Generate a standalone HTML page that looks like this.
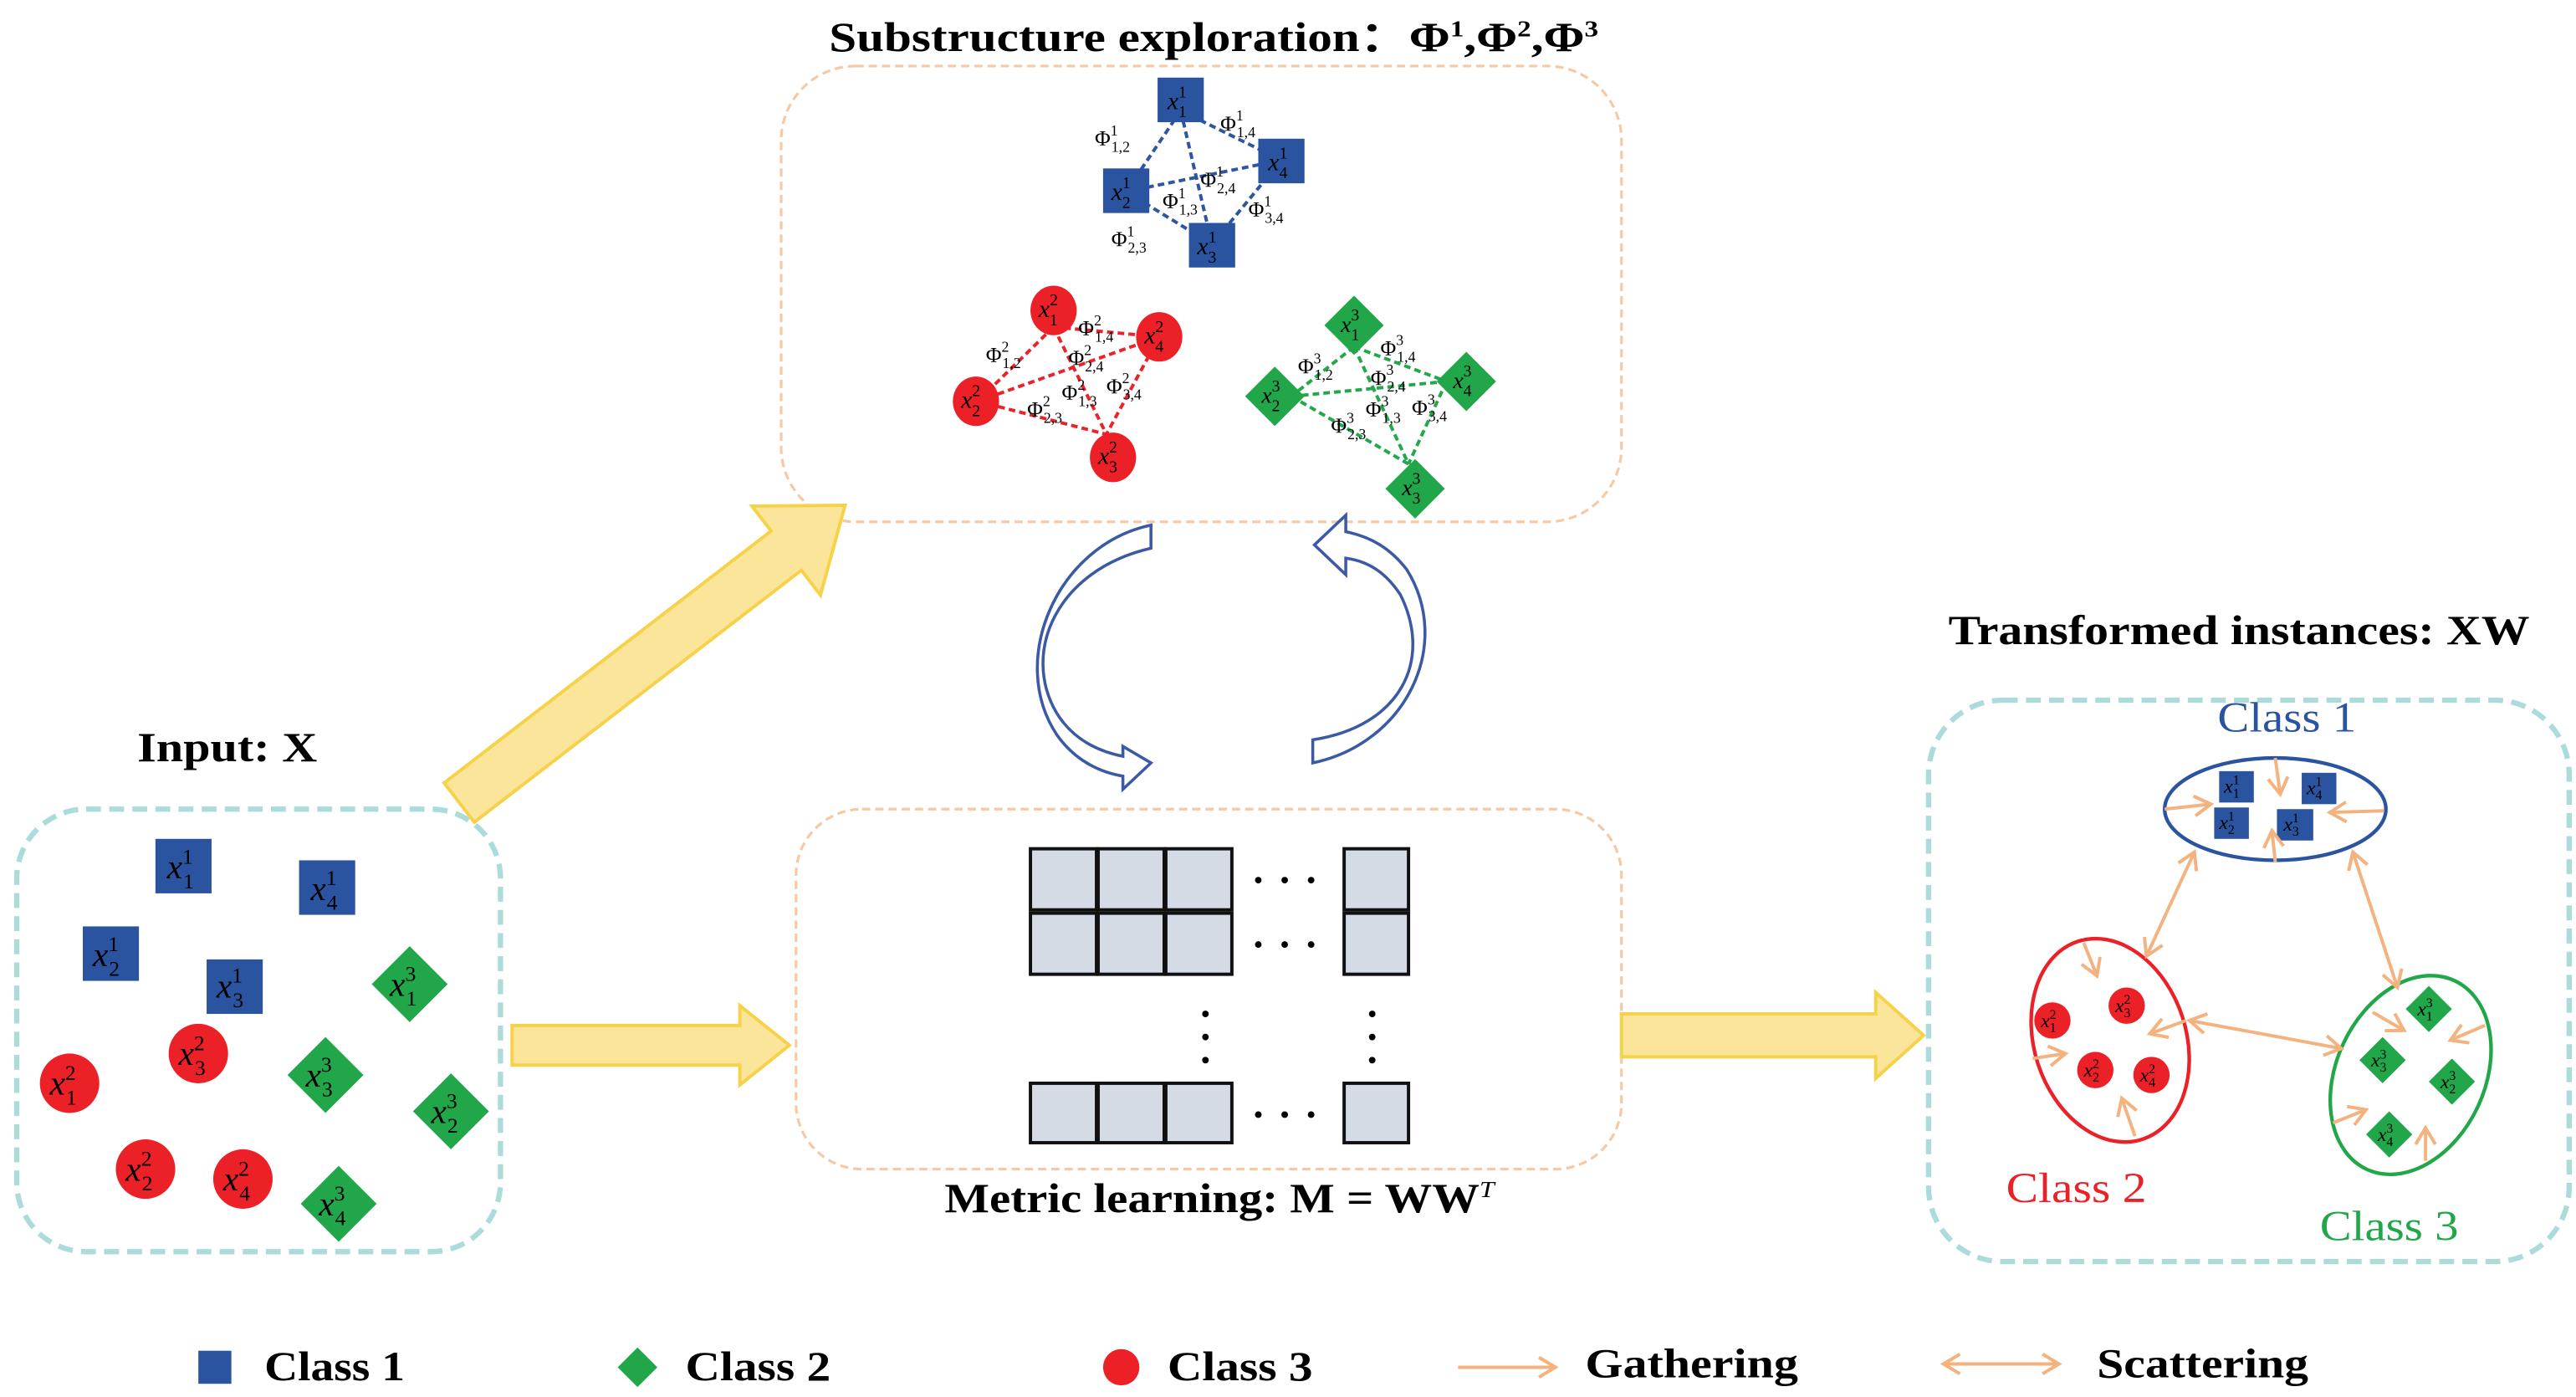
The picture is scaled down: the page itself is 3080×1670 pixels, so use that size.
<!DOCTYPE html>
<html><head><meta charset="utf-8"><style>
html,body{margin:0;padding:0;background:#fff}
svg{display:block}
text{font-family:"Liberation Serif",serif}
.m{font-style:italic;fill:#000}
.n{font-style:normal}
.b{font-weight:bold}
</style></head><body>
<svg width="3080" height="1670" viewBox="0 0 1560 846" xmlns="http://www.w3.org/2000/svg">
<defs>
<marker id="oa" viewBox="-12 -7 14 14" refX="0" refY="0" markerWidth="14" markerHeight="14" orient="auto-start-reverse" markerUnits="userSpaceOnUse">
<path d="M-10,-6 L0,0 L-10,6" fill="none" stroke="#f4b27f" stroke-width="2"/>
</marker>
</defs>

<!-- Titles -->
<text x="502" y="31" font-size="25" class="b" textLength="466" lengthAdjust="spacingAndGlyphs">Substructure exploration：Φ<tspan font-size="14" dy="-9">1</tspan><tspan dy="9">,Φ</tspan><tspan font-size="14" dy="-9">2</tspan><tspan dy="9">,Φ</tspan><tspan font-size="14" dy="-9">3</tspan></text>
<text x="83" y="461" font-size="25" class="b" textLength="109" lengthAdjust="spacingAndGlyphs">Input: X</text>
<text x="1180" y="390" font-size="25" class="b" textLength="352" lengthAdjust="spacingAndGlyphs">Transformed instances:  XW</text>
<text x="572" y="734" font-size="25" class="b" textLength="333" lengthAdjust="spacingAndGlyphs">Metric learning:  M = WW<tspan font-size="14" dy="-9" font-style="italic" font-weight="normal">T</tspan></text>

<!-- Boxes -->
<rect x="473" y="40" width="509" height="276" rx="45" fill="none" stroke="#f6c9a2" stroke-width="1.6" stroke-dasharray="5,3"/>
<rect x="482" y="490" width="500" height="218" rx="40" fill="none" stroke="#f6c9a2" stroke-width="1.6" stroke-dasharray="5,3"/>
<rect x="10" y="490" width="293" height="268" rx="42" fill="none" stroke="#abdcda" stroke-width="3.2" stroke-dasharray="9,5"/>
<rect x="1168" y="424" width="388" height="340" rx="45" fill="none" stroke="#abdcda" stroke-width="3.2" stroke-dasharray="9,5"/>

<!-- Yellow arrows -->
<g fill="#fbe59a" stroke="#f6d24a" stroke-width="2">
<polygon transform="translate(278,486) rotate(-37.6)" points="0,-15 250,-15 250,-34 295,0 250,34 250,15 0,15"/>
<polygon points="310,621 448,621 448,609 478,633 448,657 448,645 310,645"/>
<polygon points="982,614 1136,614 1136,601 1165,627 1136,653 1136,640 982,640"/>
</g>

<!-- Cycle arrows -->
<g fill="none" stroke="#3b5aa3" stroke-width="1.8">
<path d="M697,318 C640,330 610,400 640,445 C652,462 668,468 680,470 L680,478 L697,462 L680,452 L680,458 C665,455 650,448 640,432 C618,395 640,345 697,332 Z" fill="#fff"/>
<path d="M795,462 C852,450 880,390 852,345 C842,332 830,325 815,322 L815,312 L796,330 L815,348 L815,338 C830,340 840,348 848,360 C868,400 848,440 795,448 Z" fill="#fff"/>
</g>

<!-- Top: blue group -->
<g stroke="#2d55a0" stroke-width="2" stroke-dasharray="4,2.5">
<line x1="715" y1="67" x2="682" y2="116"/><line x1="715" y1="67" x2="776" y2="97"/><line x1="715" y1="67" x2="734" y2="148"/>
<line x1="682" y1="116" x2="776" y2="97"/><line x1="682" y1="116" x2="734" y2="148"/><line x1="776" y1="97" x2="734" y2="148"/>
</g>
<g fill="#2b54a0">
<rect x="701" y="47" width="28" height="27"/><rect x="762" y="84" width="28" height="27"/>
<rect x="668" y="102" width="28" height="27"/><rect x="720" y="135" width="28" height="27"/>
</g>
<g font-size="15">
<text x="707" y="66" class="m">x<tspan class="n" font-size="10" dy="-7">1</tspan><tspan class="n" font-size="10" dx="-5" dy="12">1</tspan></text>
<text x="768" y="103" class="m">x<tspan class="n" font-size="10" dy="-7">1</tspan><tspan class="n" font-size="10" dx="-5" dy="12">4</tspan></text>
<text x="673" y="121" class="m">x<tspan class="n" font-size="10" dy="-7">1</tspan><tspan class="n" font-size="10" dx="-5" dy="12">2</tspan></text>
<text x="725" y="154" class="m">x<tspan class="n" font-size="10" dy="-7">1</tspan><tspan class="n" font-size="10" dx="-5" dy="12">3</tspan></text>
</g>
<g font-size="13">
<text x="663" y="88">Φ<tspan font-size="9" dy="-6">1</tspan><tspan font-size="9" dx="-4" dy="10">1,2</tspan></text>
<text x="739" y="79">Φ<tspan font-size="9" dy="-6">1</tspan><tspan font-size="9" dx="-4" dy="10">1,4</tspan></text>
<text x="727" y="113">Φ<tspan font-size="9" dy="-6">1</tspan><tspan font-size="9" dx="-4" dy="10">2,4</tspan></text>
<text x="704" y="126">Φ<tspan font-size="9" dy="-6">1</tspan><tspan font-size="9" dx="-4" dy="10">1,3</tspan></text>
<text x="756" y="131">Φ<tspan font-size="9" dy="-6">1</tspan><tspan font-size="9" dx="-4" dy="10">3,4</tspan></text>
<text x="673" y="149">Φ<tspan font-size="9" dy="-6">1</tspan><tspan font-size="9" dx="-4" dy="10">2,3</tspan></text>
</g>

<!-- Top: red group -->
<g stroke="#e8232a" stroke-width="2" stroke-dasharray="4,2.5">
<line x1="638" y1="198" x2="592" y2="243"/><line x1="638" y1="198" x2="702" y2="204"/><line x1="638" y1="198" x2="670" y2="263"/>
<line x1="592" y1="243" x2="702" y2="204"/><line x1="592" y1="243" x2="670" y2="263"/><line x1="702" y1="204" x2="670" y2="263"/>
</g>
<g fill="#ec2027">
<ellipse cx="638" cy="188" rx="14" ry="15"/><ellipse cx="702" cy="204" rx="14" ry="15"/>
<ellipse cx="591" cy="243" rx="14" ry="15"/><ellipse cx="674" cy="277" rx="14" ry="15"/>
</g>
<g font-size="15">
<text x="629" y="192" class="m">x<tspan class="n" font-size="10" dy="-7">2</tspan><tspan class="n" font-size="10" dx="-5" dy="12">1</tspan></text>
<text x="693" y="208" class="m">x<tspan class="n" font-size="10" dy="-7">2</tspan><tspan class="n" font-size="10" dx="-5" dy="12">4</tspan></text>
<text x="582" y="247" class="m">x<tspan class="n" font-size="10" dy="-7">2</tspan><tspan class="n" font-size="10" dx="-5" dy="12">2</tspan></text>
<text x="665" y="281" class="m">x<tspan class="n" font-size="10" dy="-7">2</tspan><tspan class="n" font-size="10" dx="-5" dy="12">3</tspan></text>
</g>
<g font-size="13">
<text x="597" y="219">Φ<tspan font-size="9" dy="-6">2</tspan><tspan font-size="9" dx="-4" dy="10">1,2</tspan></text>
<text x="653" y="203">Φ<tspan font-size="9" dy="-6">2</tspan><tspan font-size="9" dx="-4" dy="10">1,4</tspan></text>
<text x="647" y="221">Φ<tspan font-size="9" dy="-6">2</tspan><tspan font-size="9" dx="-4" dy="10">2,4</tspan></text>
<text x="643" y="242">Φ<tspan font-size="9" dy="-6">2</tspan><tspan font-size="9" dx="-4" dy="10">1,3</tspan></text>
<text x="670" y="238">Φ<tspan font-size="9" dy="-6">2</tspan><tspan font-size="9" dx="-4" dy="10">3,4</tspan></text>
<text x="622" y="252">Φ<tspan font-size="9" dy="-6">2</tspan><tspan font-size="9" dx="-4" dy="10">2,3</tspan></text>
</g>

<!-- Top: green group -->
<g stroke="#22a84a" stroke-width="2" stroke-dasharray="4,2.5">
<line x1="820" y1="210" x2="782" y2="240"/><line x1="820" y1="210" x2="876" y2="231"/><line x1="820" y1="210" x2="853" y2="281"/>
<line x1="782" y1="240" x2="876" y2="231"/><line x1="782" y1="240" x2="853" y2="281"/><line x1="876" y1="231" x2="853" y2="281"/>
</g>
<g fill="#21a74a">
<polygon points="820,179 838,197 820,215 802,197"/><polygon points="888,213 906,231 888,249 870,231"/>
<polygon points="772,222 790,240 772,258 754,240"/><polygon points="857,278 875,296 857,314 839,296"/>
</g>
<g font-size="14">
<text x="812" y="201" class="m">x<tspan class="n" font-size="10" dy="-7">3</tspan><tspan class="n" font-size="10" dx="-5" dy="12">1</tspan></text>
<text x="880" y="235" class="m">x<tspan class="n" font-size="10" dy="-7">3</tspan><tspan class="n" font-size="10" dx="-5" dy="12">4</tspan></text>
<text x="764" y="244" class="m">x<tspan class="n" font-size="10" dy="-7">3</tspan><tspan class="n" font-size="10" dx="-5" dy="12">2</tspan></text>
<text x="849" y="300" class="m">x<tspan class="n" font-size="10" dy="-7">3</tspan><tspan class="n" font-size="10" dx="-5" dy="12">3</tspan></text>
</g>
<g font-size="13">
<text x="786" y="226">Φ<tspan font-size="9" dy="-6">3</tspan><tspan font-size="9" dx="-4" dy="10">1,2</tspan></text>
<text x="836" y="215">Φ<tspan font-size="9" dy="-6">3</tspan><tspan font-size="9" dx="-4" dy="10">1,4</tspan></text>
<text x="830" y="233">Φ<tspan font-size="9" dy="-6">3</tspan><tspan font-size="9" dx="-4" dy="10">2,4</tspan></text>
<text x="827" y="252">Φ<tspan font-size="9" dy="-6">3</tspan><tspan font-size="9" dx="-4" dy="10">1,3</tspan></text>
<text x="855" y="251">Φ<tspan font-size="9" dy="-6">3</tspan><tspan font-size="9" dx="-4" dy="10">3,4</tspan></text>
<text x="806" y="262">Φ<tspan font-size="9" dy="-6">3</tspan><tspan font-size="9" dx="-4" dy="10">2,3</tspan></text>
</g>

<!-- Input items -->
<g fill="#2b54a0">
<rect x="94" y="508" width="34" height="33"/><rect x="181" y="521" width="34" height="33"/>
<rect x="50" y="561" width="34" height="33"/><rect x="125" y="581" width="34" height="33"/>
</g>
<g fill="#ec2027">
<circle cx="120" cy="638" r="18"/><circle cx="42" cy="656" r="18"/>
<circle cx="88" cy="708" r="18"/><circle cx="147" cy="714" r="18"/>
</g>
<g fill="#21a74a">
<polygon points="248,573 271,596 248,619 225,596"/><polygon points="197,628 220,651 197,674 174,651"/>
<polygon points="273,650 296,673 273,696 250,673"/><polygon points="205,706 228,729 205,752 182,729"/>
</g>
<g font-size="21">
<text x="101" y="532" class="m">x<tspan class="n" font-size="13" dy="-9">1</tspan><tspan class="n" font-size="13" dx="-6" dy="15">1</tspan></text>
<text x="188" y="545" class="m">x<tspan class="n" font-size="13" dy="-9">1</tspan><tspan class="n" font-size="13" dx="-6" dy="15">4</tspan></text>
<text x="56" y="585" class="m">x<tspan class="n" font-size="13" dy="-9">1</tspan><tspan class="n" font-size="13" dx="-6" dy="15">2</tspan></text>
<text x="131" y="604" class="m">x<tspan class="n" font-size="13" dy="-9">1</tspan><tspan class="n" font-size="13" dx="-6" dy="15">3</tspan></text>
<text x="108" y="645" class="m">x<tspan class="n" font-size="13" dy="-9">2</tspan><tspan class="n" font-size="13" dx="-6" dy="15">3</tspan></text>
<text x="30" y="663" class="m">x<tspan class="n" font-size="13" dy="-9">2</tspan><tspan class="n" font-size="13" dx="-6" dy="15">1</tspan></text>
<text x="76" y="715" class="m">x<tspan class="n" font-size="13" dy="-9">2</tspan><tspan class="n" font-size="13" dx="-6" dy="15">2</tspan></text>
<text x="135" y="721" class="m">x<tspan class="n" font-size="13" dy="-9">2</tspan><tspan class="n" font-size="13" dx="-6" dy="15">4</tspan></text>
<text x="236" y="603" class="m">x<tspan class="n" font-size="13" dy="-9">3</tspan><tspan class="n" font-size="13" dx="-6" dy="15">1</tspan></text>
<text x="185" y="658" class="m">x<tspan class="n" font-size="13" dy="-9">3</tspan><tspan class="n" font-size="13" dx="-6" dy="15">3</tspan></text>
<text x="261" y="680" class="m">x<tspan class="n" font-size="13" dy="-9">3</tspan><tspan class="n" font-size="13" dx="-6" dy="15">2</tspan></text>
<text x="193" y="736" class="m">x<tspan class="n" font-size="13" dy="-9">3</tspan><tspan class="n" font-size="13" dx="-6" dy="15">4</tspan></text>
</g>

<!-- Matrix grid -->
<g fill="#d5dbe5" stroke="#111" stroke-width="2">
<rect x="624" y="514" width="40" height="37"/><rect x="665" y="514" width="40" height="37"/><rect x="706" y="514" width="40" height="37"/><rect x="814" y="514" width="39" height="37"/>
<rect x="624" y="553" width="40" height="37"/><rect x="665" y="553" width="40" height="37"/><rect x="706" y="553" width="40" height="37"/><rect x="814" y="553" width="39" height="37"/>
<rect x="624" y="656" width="40" height="36"/><rect x="665" y="656" width="40" height="36"/><rect x="706" y="656" width="40" height="36"/><rect x="814" y="656" width="39" height="36"/>
</g>
<g fill="#000">
<circle cx="762" cy="533" r="2"/><circle cx="778" cy="533" r="2"/><circle cx="794" cy="533" r="2"/>
<circle cx="762" cy="572" r="2"/><circle cx="778" cy="572" r="2"/><circle cx="794" cy="572" r="2"/>
<circle cx="762" cy="675" r="2"/><circle cx="778" cy="675" r="2"/><circle cx="794" cy="675" r="2"/>
<circle cx="730" cy="614" r="2"/><circle cx="730" cy="628" r="2"/><circle cx="730" cy="642" r="2"/>
<circle cx="831" cy="614" r="2"/><circle cx="831" cy="628" r="2"/><circle cx="831" cy="642" r="2"/>
</g>

<!-- Transformed instances -->
<text x="1343" y="443" font-size="26" fill="#2b54a0" textLength="84" lengthAdjust="spacingAndGlyphs">Class 1</text>
<text x="1215" y="728" font-size="26" fill="#ec2027" textLength="85" lengthAdjust="spacingAndGlyphs">Class 2</text>
<text x="1405" y="751" font-size="26" fill="#21a74a" textLength="84" lengthAdjust="spacingAndGlyphs">Class 3</text>
<ellipse cx="1378" cy="490" rx="67" ry="31" fill="none" stroke="#2b54a0" stroke-width="2.2"/>
<ellipse cx="1278" cy="630" rx="46" ry="63" transform="rotate(-18 1278 630)" fill="none" stroke="#ec2027" stroke-width="2.2"/>
<ellipse cx="1460" cy="651" rx="45" ry="63" transform="rotate(25 1460 651)" fill="none" stroke="#21a74a" stroke-width="2.2"/>
<g fill="#2b54a0">
<rect x="1344" y="467" width="21" height="19"/><rect x="1394" y="468" width="21" height="19"/>
<rect x="1341" y="489" width="21" height="19"/><rect x="1379" y="490" width="22" height="19"/>
</g>
<g fill="#ec2027">
<circle cx="1243" cy="618" r="11"/><circle cx="1288" cy="609" r="11"/><circle cx="1269" cy="648" r="11"/><circle cx="1303" cy="651" r="11"/>
</g>
<g fill="#21a74a">
<polygon points="1471,597 1485,611 1471,625 1457,611"/><polygon points="1443,628 1457,642 1443,656 1429,642"/>
<polygon points="1485,641 1499,655 1485,669 1471,655"/><polygon points="1447,673 1461,687 1447,701 1433,687"/>
</g>
<g font-size="12">
<text x="1347" y="480" class="m">x<tspan class="n" font-size="8" dy="-5">1</tspan><tspan class="n" font-size="8" dx="-4" dy="8">1</tspan></text>
<text x="1397" y="481" class="m">x<tspan class="n" font-size="8" dy="-5">1</tspan><tspan class="n" font-size="8" dx="-4" dy="8">4</tspan></text>
<text x="1344" y="502" class="m">x<tspan class="n" font-size="8" dy="-5">1</tspan><tspan class="n" font-size="8" dx="-4" dy="8">2</tspan></text>
<text x="1383" y="503" class="m">x<tspan class="n" font-size="8" dy="-5">1</tspan><tspan class="n" font-size="8" dx="-4" dy="8">3</tspan></text>
<text x="1236" y="622" class="m">x<tspan class="n" font-size="8" dy="-5">2</tspan><tspan class="n" font-size="8" dx="-4" dy="8">1</tspan></text>
<text x="1281" y="613" class="m">x<tspan class="n" font-size="8" dy="-5">2</tspan><tspan class="n" font-size="8" dx="-4" dy="8">3</tspan></text>
<text x="1262" y="652" class="m">x<tspan class="n" font-size="8" dy="-5">2</tspan><tspan class="n" font-size="8" dx="-4" dy="8">2</tspan></text>
<text x="1296" y="655" class="m">x<tspan class="n" font-size="8" dy="-5">2</tspan><tspan class="n" font-size="8" dx="-4" dy="8">4</tspan></text>
<text x="1464" y="615" class="m">x<tspan class="n" font-size="8" dy="-5">3</tspan><tspan class="n" font-size="8" dx="-4" dy="8">1</tspan></text>
<text x="1436" y="646" class="m">x<tspan class="n" font-size="8" dy="-5">3</tspan><tspan class="n" font-size="8" dx="-4" dy="8">3</tspan></text>
<text x="1478" y="659" class="m">x<tspan class="n" font-size="8" dy="-5">3</tspan><tspan class="n" font-size="8" dx="-4" dy="8">2</tspan></text>
<text x="1440" y="691" class="m">x<tspan class="n" font-size="8" dy="-5">3</tspan><tspan class="n" font-size="8" dx="-4" dy="8">4</tspan></text>
</g>
<g stroke="#f4b27f" stroke-width="2" fill="none" marker-end="url(#oa)">
<line x1="1378" y1="459" x2="1381" y2="481"/><line x1="1311" y1="490" x2="1339" y2="487"/>
<line x1="1444" y1="491" x2="1411" y2="492"/><line x1="1378" y1="522" x2="1376" y2="503"/>
<line x1="1262" y1="571" x2="1270" y2="591"/><line x1="1231" y1="641" x2="1251" y2="638"/>
<line x1="1293" y1="688" x2="1285" y2="665"/><line x1="1324" y1="618" x2="1302" y2="626"/>
<line x1="1437" y1="613" x2="1456" y2="624"/><line x1="1505" y1="621" x2="1484" y2="630"/>
<line x1="1413" y1="680" x2="1433" y2="672"/><line x1="1469" y1="703" x2="1469" y2="683"/>
<line x1="1329" y1="516" x2="1300" y2="579" marker-start="url(#oa)"/>
<line x1="1425" y1="516" x2="1452" y2="598" marker-start="url(#oa)"/>
<line x1="1326" y1="618" x2="1418" y2="635" marker-start="url(#oa)"/>
</g>

<!-- Legend -->
<rect x="120" y="818" width="20" height="20" fill="#2b54a0"/>
<text x="160" y="836" font-size="25" class="b" textLength="85" lengthAdjust="spacingAndGlyphs">Class 1</text>
<polygon points="386,816 398,828 386,840 374,828" fill="#21a74a"/>
<text x="415" y="836" font-size="25" class="b" textLength="88" lengthAdjust="spacingAndGlyphs">Class 2</text>
<circle cx="679" cy="828" r="11" fill="#ec2027"/>
<text x="707" y="836" font-size="25" class="b" textLength="88" lengthAdjust="spacingAndGlyphs">Class 3</text>
<line x1="883" y1="828" x2="942" y2="828" stroke="#f4b27f" stroke-width="2" marker-end="url(#oa)"/>
<text x="960" y="834" font-size="25" class="b" textLength="129" lengthAdjust="spacingAndGlyphs">Gathering</text>
<line x1="1177" y1="826" x2="1247" y2="826" stroke="#f4b27f" stroke-width="2" marker-end="url(#oa)" marker-start="url(#oa)"/>
<text x="1270" y="834" font-size="25" class="b" textLength="128" lengthAdjust="spacingAndGlyphs">Scattering</text>
</svg>
</body></html>
